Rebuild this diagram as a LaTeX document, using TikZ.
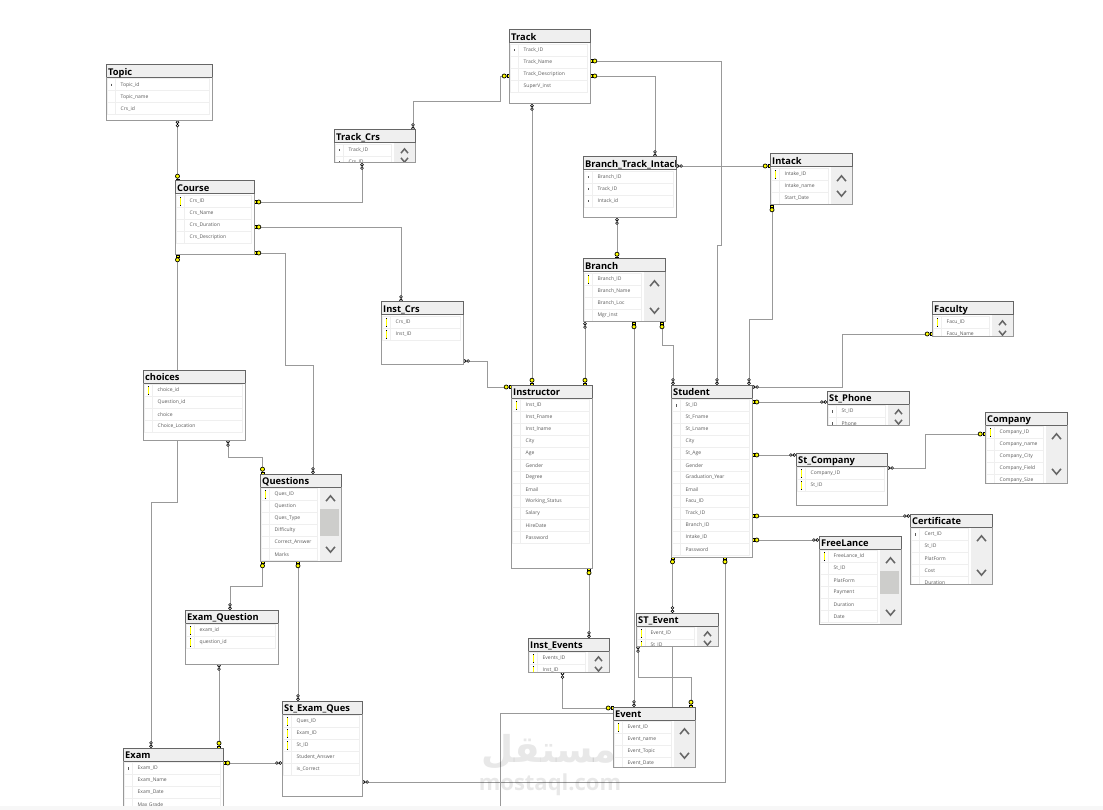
\documentclass[tikz,border=0pt]{standalone}
\usepackage{fontspec}
\setmainfont{Open Sans}
\newfontfamily\arabicfont[Script=Arabic]{DejaVu Sans}
\TeXXeTstate=1
\usetikzlibrary{arrows.meta}
\usetikzlibrary{backgrounds}
\definecolor{dbline}{HTML}{999999}
\definecolor{dbhead}{HTML}{EFEFEF}
\definecolor{dbdark}{HTML}{666666}
\definecolor{dbrow}{HTML}{EFEFEF}
\definecolor{dbtext}{HTML}{5A5A5A}
\definecolor{dbthumbc}{HTML}{CDCDCB}
\definecolor{dbkey}{HTML}{FFFF00}
\tikzset{
  dbbox/.style={draw=dbline,fill=white,line width=1pt,anchor=north west,outer sep=0pt,inner sep=0pt},
  dbtitle/.style={anchor=base west,inner sep=0pt,text=black,font=\fontsize{9.3}{12}\selectfont\bfseries},
  dbcell/.style={anchor=west,inner sep=0pt,text=dbtext,font=\fontsize{5}{6}\selectfont},
  dbcellline/.style={draw=dbrow,line width=.7pt},
  dbchevron/.style={draw=dbdark,line width=1.5pt},
  rel/.style={draw=dbline,line width=.9pt},
  keyy/.style={draw=dbkey,line width=1.4pt,postaction={draw=black,line width=.8pt,dash pattern=on .7pt off 7.6pt}},
  keys/.style={draw=dbtext,line width=.8pt,shorten >=3pt,shorten <=3pt},
  keyn/.style={draw=none},
  manyend/.tip={Circle[fill=white,color=black,length=3.4pt,width=3.4pt,line width=.6pt]Circle[fill=white,color=black,length=3.4pt,width=3.4pt,line width=.6pt]},
  keyend/.tip={Circle[fill=dbkey,color=black,length=4.8pt,width=4.8pt,line width=.7pt]Rectangle[fill=dbkey,color=black,length=2.4pt,width=3.6pt,line width=.5pt]},
}
% [scroll width]{node}{title}{x}{y}{w}{h}{rows}
\newcommand{\dbtable}[8][0]{%
  \node[dbbox,minimum width=#6pt,minimum height=#7pt] (#2) at (#4,#5) {};
  \begin{scope}[shift={(#4,#5)}]
    \begin{scope}
      \clip (0,0) rectangle (#6,#7);
      \foreach \cellname/\cellkey [count=\cellnum] in {#8} {
        \pgfmathsetmacro\celly{8.3+12*\cellnum}
        \draw[dbcellline] (1.5,\celly-6) rectangle (#6-2.5-#1,\celly+6) (9,\celly-6) -- (9,\celly+6);
        \draw[key\cellkey] (5.5,\celly-4.2) -- (5.5,\celly+4.2);
        \node[dbcell] (#2-r\cellnum) at (14.5,\celly) {\cellname};
      }
      \ifnum#1>0
        \fill[dbhead] (#6-#1,13) rectangle (#6,#7);
        \ifnum#7<40 \def\cvu{21}\def\cvd{#7-3}\def\cvh{3.5}\else\def\cvu{24.5}\def\cvd{#7-11.5}\def\cvh{4.5}\fi
        \draw[dbchevron] (#6-#1/2-\cvh,\cvu+.6*\cvh) -- (#6-#1/2,\cvu-.6*\cvh) -- (#6-#1/2+\cvh,\cvu+.6*\cvh);
        \draw[dbchevron] (#6-#1/2-\cvh,\cvd-.6*\cvh) -- (#6-#1/2,\cvd+.6*\cvh) -- (#6-#1/2+\cvh,\cvd-.6*\cvh);
      \fi
    \end{scope}
    \draw[fill=dbhead,draw=dbdark,line width=1pt] (0,0) rectangle (#6,13);
    \begin{scope}
      \clip (0,0) rectangle (#6-.5,13);
      \node[dbtitle] (#2-t) at (2,10.8) {#3};
    \end{scope}
    \draw[draw=dbline,line width=1pt] (0,13) -- (0,#7) -- (#6,#7) -- (#6,13);
  \end{scope}
}
\begin{document}
\begin{tikzpicture}[x=1pt,y=-1pt]
\useasboundingbox (0,0) rectangle (1103,810);

\dbtable{Topic}{Topic}{106}{64.5}{106}{56}{Topic\_id/s,Topic\_name/n,Crs\_id/n}
\dbtable{Course}{Course}{175}{181}{79}{74}{Crs\_ID/y,Crs\_Name/n,Crs\_Duration/n,Crs\_Description/n}
\dbtable[21]{TrackCrs}{Track\_Crs}{334}{130}{81}{33}{Track\_ID/s,Crs\_ID/s}
\dbtable{Track}{Track}{509}{30}{81}{74}{Track\_ID/s,Track\_Name/n,Track\_Description/n,SuperV\_inst/n}
\dbtable{BranchTrackIntack}{Branch\_Track\_Intack}{583}{157}{93}{61}{Branch\_ID/s,Track\_ID/s,Intack\_id/s}
\dbtable[21]{Intack}{Intack}{770}{154}{82}{51}{Intake\_ID/y,Intake\_name/n,Start\_Date/n}
\dbtable[21]{Branch}{Branch}{583}{259}{82}{63}{Branch\_ID/y,Branch\_Name/n,Branch\_Loc/n,Mgr\_inst/n}
\dbtable[21]{Faculty}{Faculty}{932}{302}{81}{34}{Facu\_ID/y,Facu\_Name/n}
\dbtable{InstCrs}{Inst\_Crs}{381}{302}{82}{62}{Crs\_ID/y,Inst\_ID/y}
\dbtable{Instructor}{Instructor}{511}{385}{81}{183}{Inst\_ID/y,Inst\_Fname/n,Inst\_lname/n,City/n,Age/n,Gender/n,Degree/n,Email/n,Working\_Status/n,Salary/n,HireDate/n,Password/n}
\dbtable{Student}{Student}{671}{385}{81}{172}{St\_ID/s,St\_Fname/n,St\_Lname/n,City/n,St\_Age/n,Gender/n,Graduation\_Year/n,Email/n,Facu\_ID/n,Track\_ID/n,Branch\_ID/n,Intake\_ID/n,Password/n}
\dbtable[21]{StPhone}{St\_Phone}{827}{391}{82}{34}{St\_ID/s,Phone/s}
\dbtable[21]{Company}{Company}{985}{412}{82}{71}{Company\_ID/y,Company\_name/n,Company\_City/n,Company\_Field/n,Company\_Size/n}
\dbtable{StCompany}{St\_Company}{796}{453}{91}{52}{Company\_ID/y,St\_ID/y}
\dbtable[21]{Certificate}{Certificate}{910}{514}{82}{70}{Cert\_ID/s,St\_ID/n,PlatForm/n,Cost/n,Duration/n}
\dbtable[21]{FreeLance}{FreeLance}{819}{536}{82}{88}{FreeLance\_Id/y,St\_ID/n,PlatForm/n,Payment/n,Duration/n,Date/n}
\dbtable{choices}{choices}{143}{370}{102}{70}{choice\_id/y,Question\_id/n,choice/n,Choice\_Location/n}
\dbtable[21]{Questions}{Questions}{260}{474}{81}{87}{Ques\_ID/y,Question/n,Ques\_Type/n,Difficulty/n,Correct\_Answer/n,Marks/n}
\dbtable{ExamQuestion}{Exam\_Question}{185}{610}{93}{54}{exam\_id/y,question\_id/y}
\dbtable{Exam}{Exam}{123}{748}{100}{70}{Exam\_ID/s,Exam\_Name/n,Exam\_Date/n,Max Grade/n}
\dbtable{StExamQues}{St\_Exam\_Ques}{282}{701}{80}{95}{Ques\_ID/y,Exam\_ID/y,St\_ID/y,Student\_Answer/n,is\_Correct/n}
\dbtable[21]{InstEvents}{Inst\_Events}{528}{638}{81}{34}{Events\_ID/y,Inst\_ID/y}
\dbtable[21]{STEvent}{ST\_Event}{636}{613}{82}{33}{Event\_ID/y,St\_ID/y}
\dbtable[21]{Event}{Event}{613}{707}{82}{60}{Event\_ID/y,Event\_name/n,Event\_Topic/n,Event\_Date/n}

\fill[dbthumbc] (880,571) rectangle (899,594);
\fill[dbthumbc] (320,509) rectangle (339,536);

\coordinate (eventend) at (500,806);

\begin{scope}[on background layer]
  \draw[rel,manyend-keyend] (177.5,0 |- Topic.south) -- (177.5,0 |- Course.north);
  \draw[rel,manyend-keyend] (362,0 |- TrackCrs.south) |- (Course.east |- 0,202);
  \draw[rel,manyend-keyend] (413,0 |- TrackCrs.north) |- (500,101) |- (Track.west |- 0,76);
  \draw[rel,keyend-manyend] (Course.east |- 0,227) -| (401,0 |- InstCrs.north);
  \draw[rel,keyend-manyend] (Course.east |- 0,253) -| (285,365) -| (313,0 |- Questions.north);
  \draw[rel,keyend-manyend] (177.5,0 |- Course.south) |- (151,502) -- (151,0 |- Exam.north);
  \draw[rel,manyend-keyend] (228,0 |- choices.south) |- (262.5,457) -- (262.5,0 |- Questions.north);
  \draw[rel,keyend-manyend] (262.5,0 |- Questions.south) |- (230,586.5) -- (230,0 |- ExamQuestion.north);
  \draw[rel,keyend-manyend] (298,0 |- Questions.south) -- (298,0 |- StExamQues.north);
  \draw[rel,manyend-keyend] (219,0 |- ExamQuestion.south) -- (219,0 |- Exam.north);
  \draw[rel,keyend-manyend] (Exam.east |- 0,763) -- (StExamQues.west |- 0,763);
  \draw[rel,manyend-keyend] (StExamQues.east |- 0,782) -| (725,0 |- Student.south);
  \draw[rel,keyend-manyend] (Event.west |- 0,708) -| (562.5,0 |- InstEvents.south);
  \draw[rel] (Event.west |- 0,713) -| (eventend);
  \draw[rel,keyend-manyend] (589,0 |- Instructor.south) -- (589,0 |- InstEvents.north);
  \draw[rel,manyend-keyend] (634,0 |- Event.north) -- (634,0 |- Branch.south);
  \draw[rel,manyend-keyend] (672.5,0 |- STEvent.north) -- (672.5,0 |- Student.south);
  \draw[rel] (672.5,0 |- STEvent.south) -- (672.5,0 |- Event.north);
  \draw[rel,manyend-keyend] (638,0 |- STEvent.south) |- (691,677) -- (691,0 |- Event.north);
  \draw[rel,keyend-manyend] (532,0 |- Instructor.north) -- (532,0 |- Track.south);
  \draw[rel,keyend-manyend] (585,0 |- Instructor.north) -- (585,0 |- Branch.south);
  \draw[rel,manyend-keyend] (InstCrs.east |- 0,361) -| (487,387) -- (Instructor.west |- 0,387);
  \draw[rel,keyend-manyend] (Track.east |- 0,61) -| (721.5,245) -| (717,0 |- Student.north);
  \draw[rel,keyend-manyend] (Track.east |- 0,76) -| (655,0 |- BranchTrackIntack.north);
  \draw[rel,manyend-keyend] (BranchTrackIntack.east |- 0,166) -- (Intack.west |- 0,166);
  \draw[rel,manyend-keyend] (617,0 |- BranchTrackIntack.south) -- (617,0 |- Branch.north);
  \draw[rel,keyend-manyend] (772,0 |- Intack.south) |- (749,319) -- (749,0 |- Student.north);
  \draw[rel,keyend-manyend] (662,0 |- Branch.south) |- (673,345) -- (673,0 |- Student.north);
  \draw[rel,manyend-keyend] (Student.east |- 0,387) -| (842,334) -- (Faculty.west |- 0,334);
  \draw[rel,keyend-manyend] (Student.east |- 0,402) -- (StPhone.west |- 0,402);
  \draw[rel,keyend-manyend] (Student.east |- 0,455) -- (StCompany.west |- 0,455);
  \draw[rel,manyend-keyend] (StCompany.east |- 0,468) -| (925,434) -- (Company.west |- 0,434);
  \draw[rel,keyend-manyend] (Student.east |- 0,516) -- (Certificate.west |- 0,516);
  \draw[rel,keyend-manyend] (Student.east |- 0,540) -- (FreeLance.west |- 0,540);
\end{scope}

\fill[black!3] (0,806) rectangle (1103,810);
\node[inner sep=0pt,text=black,opacity=.09,font=\fontsize{37}{40}\selectfont\arabicfont\bfseries] (markar) at (549,752) {\beginR مستقل\endR};
\node[inner sep=0pt,text=black,opacity=.09,font=\fontsize{22}{26}\selectfont\bfseries] (markla) at (550,785) {mostaql.com};
\end{tikzpicture}
\end{document}
